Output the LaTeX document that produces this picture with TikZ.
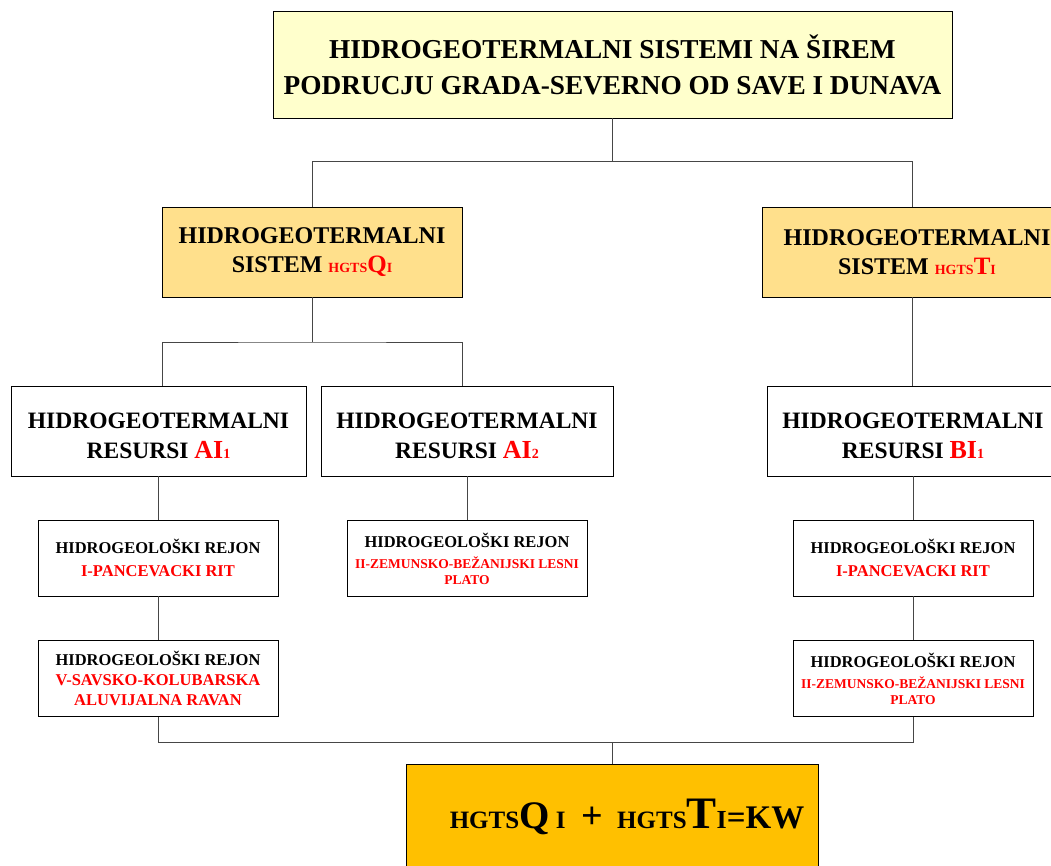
\documentclass[tikz,border=0pt]{standalone}
\usepackage{fontspec}
\setmainfont{Liberation Serif}
\definecolor{titlefill}{RGB}{255,255,204}
\definecolor{sysfill}{RGB}{255,224,140}
\definecolor{sumfill}{RGB}{255,192,0}
\definecolor{connc}{RGB}{70,70,70}
\newcommand\fs[1]{\fontsize{#1}{#1}\selectfont}
\begin{document}
\begin{tikzpicture}[x=1pt,y=-1pt,
  box/.style={draw=black, line width=0.9pt, inner sep=0pt, align=center, font=\bfseries},
  sysbox/.style={box, fill=sysfill, minimum height=90pt, font=\bfseries\fontsize{24}{29}\selectfont},
  resbox/.style={box, fill=white, minimum height=90pt, font=\bfseries\fontsize{23.5}{30}\selectfont},
  regbox/.style={box, fill=white, minimum width=240pt, minimum height=76pt, font=\bfseries\fontsize{16.5}{23}\selectfont},
  conn/.style={draw=connc, line width=0.9pt},
]
\clip (0,0) rectangle (1051,866);
\useasboundingbox (0,0) rectangle (1051,866);

\node[box, fill=titlefill, minimum width=679pt, minimum height=107pt,
      font=\bfseries\fontsize{27.3}{36}\selectfont] (title) at (612.5,64.5)
  {HIDROGEOTERMALNI SISTEMI NA ŠIREM\\PODRUCJU GRADA-SEVERNO OD SAVE I DUNAVA};

\node[sysbox, minimum width=300pt] (q) at (312,252)
  {HIDROGEOTERMALNI\\SISTEM {\color{red}\fs{14}HGTS\fs{25}Q\fs{14}I}};
\node[sysbox, minimum width=310pt] (t) at (917,252)
  {HIDROGEOTERMALNI\\SISTEM {\color{red}\fs{14}HGTS\fs{25}T\fs{14}I}};

\node[resbox, minimum width=295pt] (ai1) at (158.5,431)
  {\rule{0pt}{26pt}HIDROGEOTERMALNI\\RESURSI {\color{red}\fs{26}AI\fs{14}1}};
\node[resbox, minimum width=292pt] (ai2) at (467,431)
  {\rule{0pt}{26pt}HIDROGEOTERMALNI\\RESURSI {\color{red}\fs{26}AI\fs{14}2}};
\node[resbox, minimum width=292pt] (bi1) at (913,431)
  {\rule{0pt}{26pt}HIDROGEOTERMALNI\\RESURSI {\color{red}\fs{26}BI\fs{14}1}};

\node[regbox] (l1) at (158,558)
  {HIDROGEOLOŠKI REJON\\{\color{red}I-PANCEVACKI RIT}};
\node[regbox, font=\bfseries\fontsize{16.5}{20}\selectfont] (l2) at (158,678.5)
  {HIDROGEOLOŠKI REJON\\{\color{red}V-SAVSKO-KOLUBARSKA}\\{\color{red}ALUVIJALNA RAVAN}};
\node[regbox, font=\bfseries\fontsize{16.5}{18}\selectfont] (m1) at (467,558)
  {\rule{0pt}{17pt}HIDROGEOLOŠKI REJON\\[3pt]{\color{red}\fs{13.5}II-ZEMUNSKO-BEŽANIJSKI LESNI}\\[-2pt]{\color{red}\fs{13.5}PLATO}};
\node[regbox] (r1) at (913,558)
  {HIDROGEOLOŠKI REJON\\{\color{red}I-PANCEVACKI RIT}};
\node[regbox, font=\bfseries\fontsize{16.5}{18}\selectfont] (r2) at (913,678.5)
  {HIDROGEOLOŠKI REJON\\[3pt]{\color{red}\fs{13.5}II-ZEMUNSKO-BEŽANIJSKI LESNI}\\[-2pt]{\color{red}\fs{13.5}PLATO}};

\node[box, fill=sumfill, minimum width=412pt, minimum height=120pt, anchor=north] (sumbox) at (612,764) {};
\node[font=\bfseries, inner sep=0pt, anchor=base] (sum) at (627,828)
  {\fs{25}HGTS\fs{39}Q\fs{25}\ I\hspace{16pt}\fs{38}+\hspace{14pt}\fs{25}HGTS\fs{45}T\fs{26}I\fs{33}=KW};

% connectors
\coordinate (jt) at (612.5,161);
\draw[conn] (title.south) -- (jt) -| ([xshift=-5pt]t.north);
\draw[conn] (jt) -| (q.north);
\coordinate (jq) at (312,342);
\draw[conn] (q.south) -- (jq);
\draw[conn] ([xshift=3.5pt]ai1.north) |- (jq) -| ([xshift=-5pt]ai2.north);
\draw[conn] ([xshift=-5pt]t.south) -- ([xshift=-5pt]t.south |- bi1.north);
\draw[conn] (ai1.south) -- (ai1.south |- l1.north);
\draw[conn] (l1.south) -- (l2.north);
\draw[conn] (ai2.south) -- (ai2.south |- m1.north);
\draw[conn] (bi1.south) -- (bi1.south |- r1.north);
\draw[conn] (r1.south) -- (r2.north);
\coordinate (jb) at (612,742);
\draw[conn] (l2.south) |- (jb);
\draw[conn] (r2.south) |- (jb);
\draw[conn] (jb) -- (sumbox.north);
\end{tikzpicture}
\end{document}
